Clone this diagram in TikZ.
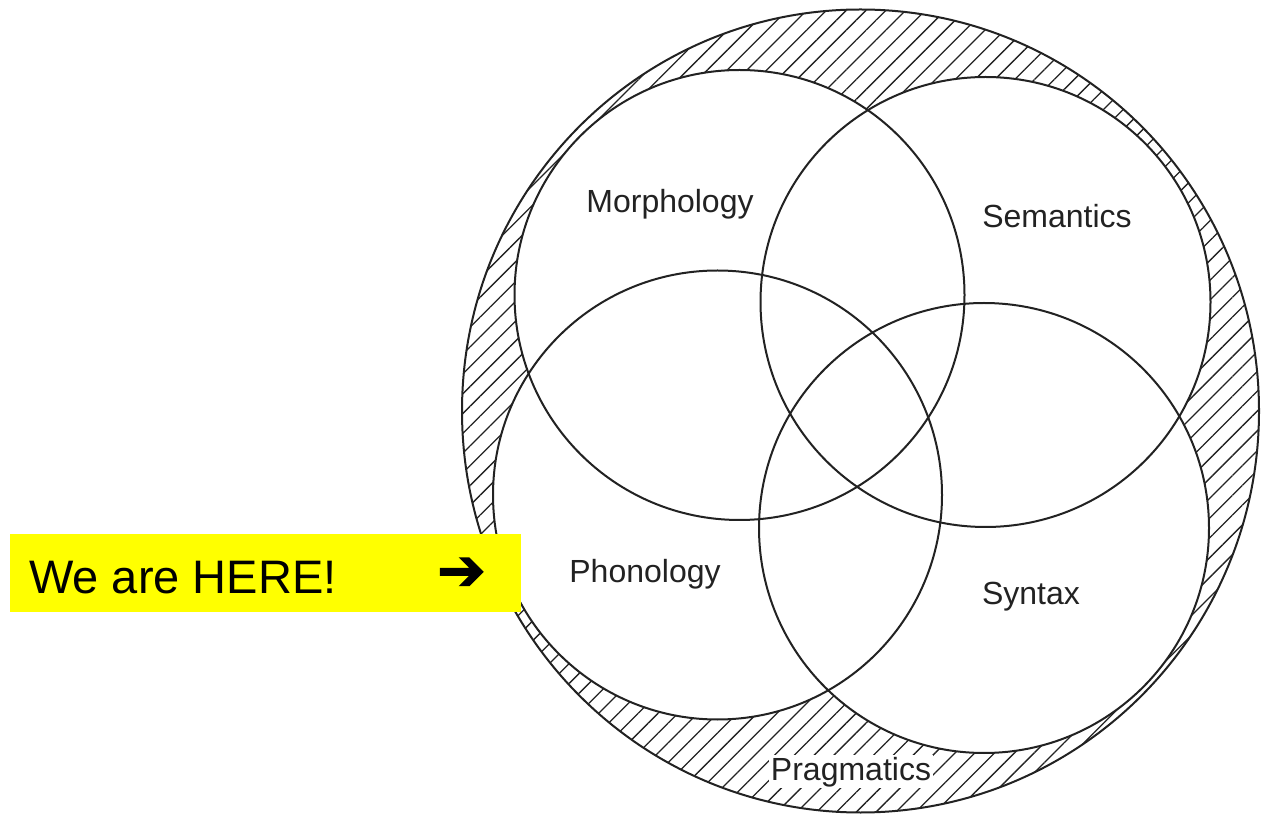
\documentclass[tikz,border=0pt]{standalone}
\usepackage{fontspec}
\setmainfont{Liberation Sans}
\newfontfamily\symfont[FakeBold=2]{DejaVu Sans}
\usetikzlibrary{patterns.meta}
\definecolor{ink}{HTML}{222222}
\definecolor{hl}{RGB}{255,255,0}
\tikzset{
  ring/.style={draw=ink, line width=2pt},
  lbl/.style={anchor=base, text=ink, font=\fontsize{32}{38}\selectfont, inner sep=0pt},
  hatch/.style={pattern={Lines[angle=45,distance=14pt,line width=1.3pt]}, pattern color=ink}
}
\begin{document}
\begin{tikzpicture}[x=1pt,y=1pt]
\useasboundingbox (0,0) rectangle (1263,817);
% hatched outer region
\coordinate (oc) at (860.5,406);
\coordinate (mc) at (739.5,522);
\coordinate (sc) at (985.5,515);
\coordinate (pc) at (717.5,322);
\coordinate (xc) at (984,289);
\fill[hatch] (oc) ellipse[x radius=398.5, y radius=401.5];
\fill[white] (mc) circle[radius=225] (sc) circle[radius=225] (pc) circle[radius=224.5] (xc) circle[radius=225];
\draw[ring] (oc) ellipse[x radius=398.5, y radius=401.5];
\draw[ring] (mc) circle[radius=225];
\draw[ring] (sc) circle[radius=225];
\draw[ring] (pc) circle[radius=224.5];
\draw[ring] (xc) circle[radius=225];
% labels
\node[lbl] (morph) at (670,604) {Morphology};
\node[lbl] (sem) at (1057,589) {Semantics};
\node[lbl] (phon) at (645,235) {Phonology};
\node[lbl] (syn) at (1031,212) {Syntax};
\node[lbl, fill=white, inner sep=1.5pt] (prag) at (851,37) {Pragmatics};
% yellow banner
\fill[hl] (10,205) rectangle (521,283);
\node[anchor=base west, inner sep=0pt, font=\fontsize{47}{56}\selectfont] (here) at (29,223) {We are HERE!};
\node[anchor=west, inner sep=0pt, font=\symfont\fontsize{58}{64}\selectfont] (arr) at (437,243) {➔};
\end{tikzpicture}
\end{document}
